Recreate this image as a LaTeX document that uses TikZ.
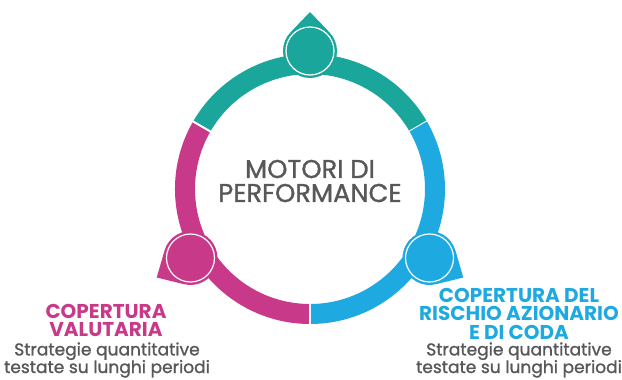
\documentclass[tikz,border=0pt]{standalone}
\usepackage{fontspec}
\setmainfont{Poppins}
\newfontfamily\motfont[FakeBold=1.2]{Poppins}
\usetikzlibrary{calc,positioning}

\definecolor{motteal}{HTML}{1BA69C}
\definecolor{motpink}{HTML}{C9398A}
\definecolor{motblue}{HTML}{1FA9E1}
\definecolor{motgray}{HTML}{58585A}

\tikzset{
    headlabel/.style={font=\fontsize{15}{13.6}\selectfont\bfseries, align=center, anchor=base},
    sublabel/.style={motgray, font=\motfont\fontsize{12.8}{13.2}\selectfont, align=center, anchor=base}
}

\begin{document}
\begin{tikzpicture}[x=0.75pt,y=0.75pt]
                \useasboundingbox (0,0) rectangle (622,379);
                \coordinate (c) at (310,190);

                % ring segments
                \foreach \a/\col in {30/motteal,150/motpink,270/motblue}
                {
                    \fill [\col] ($(c)+(\a:135)$) arc [start angle=\a, end angle=\a+120, radius=135]
                        -- ($(c)+(\a+120:115)$) arc [start angle=\a+120, end angle=\a, radius=115] -- cycle;
                    \draw [white, line width=1.5pt] ($(c)+(\a:112)$) -- ($(c)+(\a:138)$);
                }

                % drops
                \foreach \a/\col in {90/motteal,210/motpink,330/motblue}
                {
                    \coordinate (p) at ($(c)+(\a:138)$);
                    \fill [\col] ($(c)+(\a:177)$) -- ($(p)+(\a+46:27)$)
                        arc [start angle=\a+46, end angle=\a+314, radius=27] -- cycle;
                    \draw [white, line width=0.9pt] (p) circle [radius=24];
                }

                \node [motgray, font=\motfont\fontsize{19.3}{18}\selectfont, align=center, anchor=base] (motori) at (310,177) {MOTORI DI\\PERFORMANCE};

                \node [headlabel, motpink] (valuta) at (106,42) {COPERTURA\\VALUTARIA};
                \node [sublabel] (valutasub) at (107,6) {Strategie quantitative\\testate su lunghi periodi};

                \node [headlabel, motblue] (rischio) at (519,40) {COPERTURA DEL\\RISCHIO AZIONARIO\\E DI CODA};
                \node [sublabel] (rischiosub) at (519,6) {Strategie quantitative\\testate su lunghi periodi};
            \end{tikzpicture}
\end{document}
